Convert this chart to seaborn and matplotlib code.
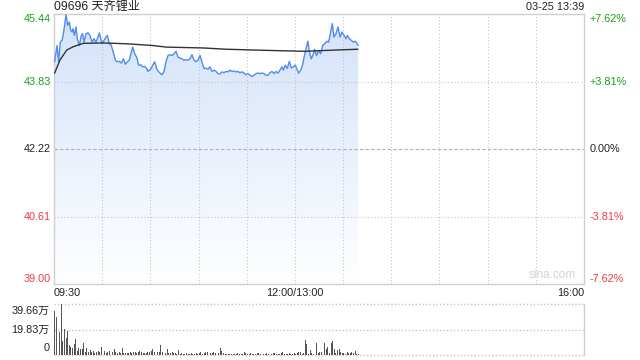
import numpy as np
import pandas as pd
import matplotlib
matplotlib.use("Agg")
import matplotlib.pyplot as plt
from matplotlib.colors import LinearSegmentedColormap
import seaborn as sns

# ---------------- data ----------------
title_text = "09696 天齐锂业"
stamp_text = "03-25 13:39"
prev_close = 42.22
y_ticks = [45.44, 43.83, 42.22, 40.61, 39.00]
pct_labels = ["+7.62%", "+3.81%", "0.00%", "-3.81%", "-7.62%"]
x_tick_minutes = [0, 150, 330]
x_tick_labels = ["09:30", "12:00/13:00", "16:00"]
vol_tick_values = [39.66, 19.83, 0]
vol_tick_labels = ["39.66万", "19.83万", "0"]

# minutes after 09:30 (lunch break removed)
price_minutes = [0.4, 1.9, 2.9, 3.9, 5.0, 6.0, 7.5, 8.5, 9.5, 10.4, 11.2, 11.8, 12.7, 13.7, 14.5,
                 15.8, 17.0, 17.8, 18.7, 19.9, 21.2, 22.4, 23.7, 24.9, 26.1, 27.4, 28.2, 29.1, 29.9,
                 31.1, 32.4, 33.2, 34.4, 35.7, 36.9, 38.2, 39.4, 40.7, 41.9, 43.2, 44.4, 45.7, 46.9,
                 47.7, 49.0, 50.2, 51.5, 52.7, 54.0, 55.2, 56.5, 57.7, 58.5, 59.8, 60.6, 61.4, 62.7,
                 63.9, 65.2, 66.4, 67.2, 68.5, 69.7, 71.0, 72.2, 73.5, 74.7, 76.0, 77.2, 78.4, 79.7,
                 80.9, 82.2, 83.4, 84.7, 85.9, 87.2, 88.4, 89.7, 90.9, 92.1, 93.4, 94.6, 95.9, 97.1,
                 98.4, 99.6, 100.9, 102.1, 103.4, 104.6, 105.8, 107.1, 108.3, 109.6, 110.8, 112.1,
                 113.3, 114.6, 115.8, 117.1, 118.3, 119.5, 120.8, 122.0, 123.3, 124.5, 125.8, 127.0,
                 128.3, 129.5, 130.7, 132.0, 133.2, 134.5, 135.7, 137.0, 138.2, 139.5, 140.7, 142.0,
                 142.8, 144.0, 145.3, 146.5, 147.8, 149.0, 150.3, 151.1, 152.3, 153.6, 154.8, 155.7,
                 156.9, 158.1, 159.0, 160.2, 161.5, 162.3, 163.5, 164.8, 166.0, 167.3, 168.5, 169.8,
                 171.0, 172.3, 173.3, 174.3, 175.6, 176.8, 178.1, 179.3, 180.6, 181.8, 182.6, 183.9,
                 185.1, 186.4, 187.6, 188.9, 189.3]
price_values = [44.30, 44.69, 44.30, 44.77, 44.81, 45.01, 45.42, 45.17, 45.25, 45.05, 45.01, 45.09,
                44.93, 45.13, 44.85, 44.69, 44.93, 44.97, 44.77, 44.97, 44.99, 44.93, 44.77, 44.85,
                44.77, 44.89, 44.99, 44.85, 44.73, 44.81, 44.89, 44.93, 44.73, 44.69, 44.53, 44.34,
                44.30, 44.31, 44.27, 44.37, 44.24, 44.30, 44.34, 44.47, 44.65, 44.49, 44.41, 44.22,
                44.23, 44.18, 44.19, 44.14, 44.07, 44.12, 44.14, 44.22, 44.30, 44.14, 44.06, 44.02,
                43.99, 44.07, 44.30, 44.45, 44.47, 44.45, 44.49, 44.55, 44.41, 44.39, 44.37, 44.34,
                44.35, 44.34, 44.37, 44.47, 44.34, 44.30, 44.34, 44.45, 44.30, 44.14, 44.15, 44.12,
                44.18, 44.07, 44.10, 44.07, 44.02, 44.01, 44.06, 44.04, 44.07, 44.06, 44.10, 44.07,
                44.08, 44.06, 44.07, 44.04, 44.06, 44.03, 43.99, 44.02, 43.98, 43.95, 43.98, 44.02,
                44.03, 44.02, 44.03, 44.02, 43.98, 43.98, 44.04, 44.07, 44.02, 44.07, 44.03, 44.10,
                44.18, 44.10, 44.22, 44.14, 44.31, 44.15, 44.18, 44.22, 44.14, 44.03, 44.10, 44.23,
                44.41, 44.61, 44.79, 44.53, 44.37, 44.49, 44.60, 44.45, 44.57, 44.49, 44.69, 44.73,
                44.79, 44.77, 45.01, 45.21, 44.89, 44.97, 45.13, 44.89, 45.01, 44.93, 44.85, 44.93,
                44.85, 44.81, 44.77, 44.79, 44.73, 44.69]

avg_minutes = [0.4, 3.7, 7.9, 12.0, 18.2, 30.5, 45.0, 61.0, 70.0, 93.0, 107.0, 125.0, 156.0, 175.0, 189.3]
avg_values = [44.03, 44.34, 44.58, 44.66, 44.74, 44.75, 44.73, 44.69, 44.65, 44.63, 44.60, 44.58,
              44.55, 44.58, 44.60]

# per-minute volume, unit: 万
volume_values = [34.2, 29.8, 13.0, 18.2, 39.66, 10.9, 20.2, 13.0, 18.7, 7.8,
                 6.5, 5.2, 8.3, 12.2, 3.1, 5.2, 4.7, 4.7, 9.1, 2.6,
                 5.2, 2.6, 3.9, 2.3, 3.4, 1.8, 2.6, 3.1, 2.6, 6.0,
                 1.8, 3.1, 1.6, 2.6, 3.1, 1.6, 2.6, 4.4, 2.6, 1.3,
                 2.1, 1.3, 5.7, 1.3, 1.3, 1.5, 1.3, 2.0, 1.5, 2.1,
                 2.6, 1.8, 2.6, 3.4, 2.6, 1.3, 1.3, 1.8, 2.6, 2.1,
                 3.1, 4.7, 2.0, 1.6, 2.1, 2.6, 7.8, 2.1, 2.6, 1.6,
                 4.7, 1.3, 1.6, 2.1, 1.3, 1.3, 1.0, 3.9, 1.0, 1.3,
                 0.8, 1.0, 1.3, 0.8, 1.0, 1.3, 1.0, 0.8, 1.8, 1.0,
                 1.3, 2.1, 1.0, 1.3, 2.6, 2.6, 2.6, 1.3, 1.8, 2.6,
                 1.3, 9.9, 1.3, 5.7, 3.1, 1.3, 0.8, 1.0, 1.0, 0.8,
                 1.0, 1.0, 0.8, 1.0, 1.3, 0.8, 1.0, 1.0, 2.6, 1.3,
                 1.0, 1.0, 1.3, 0.8, 1.0, 1.0, 1.3, 1.3, 1.0, 1.0,
                 0.8, 1.0, 1.3, 1.0, 0.8, 1.0, 1.3, 1.3, 1.0, 0.8,
                 1.0, 1.3, 2.1, 1.0, 0.8, 1.0, 1.3, 1.0, 1.0, 1.3,
                 1.0, 1.3, 2.1, 2.1, 1.0, 1.3, 11.4, 8.3, 1.0, 3.9,
                 1.3, 1.0, 6.5, 9.1, 1.3, 2.6, 2.1, 1.0, 9.0, 5.0,
                 6.5, 1.3, 9.5, 10.5, 5.0, 1.3, 3.9, 4.7, 2.1, 1.3,
                 1.8, 1.0, 2.1, 1.3, 1.3, 2.1, 1.3, 3.1, 1.0, 1.0]

# ---------------- style ----------------
sns.set_theme(style="white")
plt.rcParams["font.family"] = ["Liberation Sans", "Noto Sans CJK SC", "DejaVu Sans"]

GREEN = "#1c9e1c"
RED = "#f23c3c"
BLACK = "#222222"
LINE = "#4f8cf0"
GRID = "#c4c4c4"
BORDER = "#cfcfcf"
FS = 7.8

W, H = 640, 360
fig = plt.figure(figsize=(W / 100, H / 100), dpi=100)
fig.patch.set_facecolor("white")

ax = fig.add_axes([54 / W, 1 - 284 / H, 530 / W, 270 / H])
axv = fig.add_axes([54 / W, 1 - 355 / H, 530 / W, 51 / H])

x0, x1 = 0, 330
ymin, ymax = y_ticks[-1], y_ticks[0]

# gradient fill under price line
poly = ax.fill_between(price_minutes, price_values, ymin, color="none", linewidth=0)
cmap = LinearSegmentedColormap.from_list("g", ["#ffffff", "#d3e2fa"])
grad = np.linspace(0, 1, 256).reshape(-1, 1)
im = ax.imshow(grad, extent=[x0, x1, ymin, ymax], origin="lower", aspect="auto",
               cmap=cmap, zorder=1, interpolation="bilinear")
im.set_clip_path(poly.get_paths()[0], transform=ax.transData)

# grid
for m in range(30, 330, 30):
    ax.axvline(m, color=GRID, lw=0.8, ls=(0, (1, 2)), zorder=2)
for v in y_ticks[1:-1]:
    if abs(v - prev_close) < 1e-9:
        ax.axhline(v, color="#b0b0b0", lw=0.8, ls=(0, (3, 2)), zorder=2)
    else:
        ax.axhline(v, color=GRID, lw=0.8, ls=(0, (1, 2)), zorder=2)

df_p = pd.DataFrame({"m": price_minutes, "p": price_values})
df_a = pd.DataFrame({"m": avg_minutes, "p": avg_values})
sns.lineplot(data=df_p, x="m", y="p", ax=ax, color=LINE, lw=1.0, sort=False,
             estimator=None, zorder=4)
sns.lineplot(data=df_a, x="m", y="p", ax=ax, color="#333333", lw=1.0, sort=False,
             estimator=None, zorder=5)

ax.set_xlim(x0, x1)
ax.set_ylim(ymin, ymax)
ax.set_xticks([])
ax.set_yticks([])
ax.set_xlabel("")
ax.set_ylabel("")
for s in ax.spines.values():
    s.set_visible(True)
    s.set_color(BORDER)
    s.set_linewidth(1.0)

# y labels
def col(v):
    if v > prev_close + 1e-9:
        return GREEN
    if v < prev_close - 1e-9:
        return RED
    return BLACK

ytr = ax.get_yaxis_transform()
for i, (v, pl) in enumerate(zip(y_ticks, pct_labels)):
    va = "top" if i == 0 else ("bottom" if i == len(y_ticks) - 1 else "center")
    ax.text(-0.006, v, f"{v:.2f}", transform=ytr, ha="right", va=va, fontsize=FS, color=col(v))
    ax.text(1.011, v, pl, transform=ytr, ha="left", va=va, fontsize=FS, color=col(v))

# x labels
xtr = ax.get_xaxis_transform()
has = ["left", "center", "right"]
for m, lab, ha in zip(x_tick_minutes, x_tick_labels, has):
    ax.text(m, -0.034, lab, transform=xtr, ha=ha, va="center", fontsize=FS, color=BLACK)

ax.text(0.0, 1.027, title_text, transform=ax.transAxes, ha="left", va="center",
        fontsize=8.7, color=BLACK)
ax.text(1.0, 1.027, stamp_text, transform=ax.transAxes, ha="right", va="center",
        fontsize=FS, color=BLACK)
ax.text(0.984, 0.012, "sina.com", transform=ax.transAxes, ha="right", va="bottom",
        fontsize=8.5, color="#d2d2d2", zorder=6)

# volume panel
df_v = pd.DataFrame({"m": np.arange(len(volume_values)) + 0.5, "v": volume_values})
sns.barplot(data=df_v, x="m", y="v", ax=axv, native_scale=True, color="#555555",
            width=0.6, errorbar=None, saturation=1, linewidth=0, zorder=3)
axv.set_xlim(x0, x1)
axv.set_ylim(0, vol_tick_values[0])
axv.set_xticks([])
axv.set_yticks([])
axv.set_xlabel("")
axv.set_ylabel("")
for k, s in axv.spines.items():
    s.set_visible(k == "right")
    s.set_color(BORDER)
    s.set_linewidth(1.0)
for v in vol_tick_values:
    axv.axhline(v, color=GRID, lw=1.0, ls=(0, (1, 1.5)), zorder=2, clip_on=False)

vtr = axv.get_yaxis_transform()
for i, (v, lab) in enumerate(zip(vol_tick_values, vol_tick_labels)):
    va = "top" if i == 0 else ("bottom" if i == len(vol_tick_values) - 1 else "center")
    off = -0.15 if i == 0 else (2.5 if i == len(vol_tick_values) - 1 else 0)
    axv.text(-0.008, v - 1.5 if i == 0 else v + (1.5 if i == 2 else 0), lab, transform=vtr,
             ha="right", va=va, fontsize=FS, color=BLACK)

fig.savefig("out.png", dpi=100, facecolor="white")
